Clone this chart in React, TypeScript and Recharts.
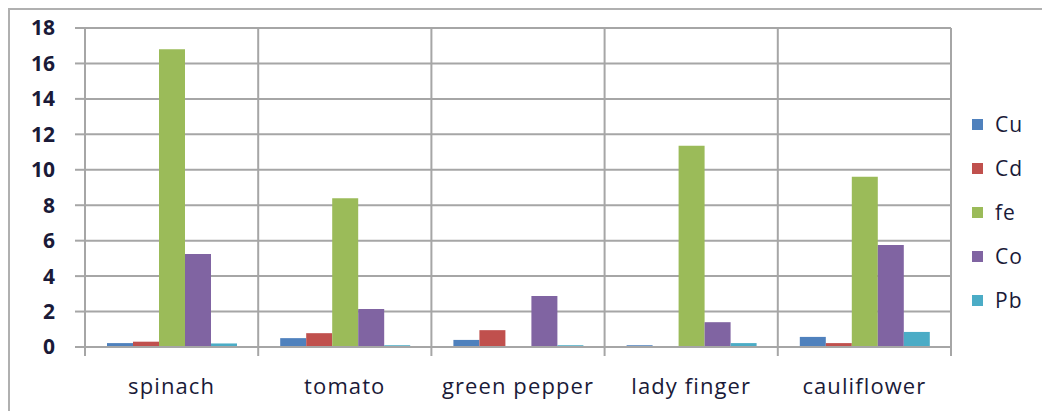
import { BarChart, Bar, XAxis, YAxis, CartesianGrid } from "recharts";

const categories = ["spinach", "tomato", "green pepper", "lady finger", "cauliflower"];
const cu = [0.22, 0.5, 0.4, 0.1, 0.57];
const cd = [0.3, 0.78, 0.95, 0, 0.22];
const fe = [16.8, 8.4, 0, 11.35, 9.6];
const co = [5.25, 2.15, 2.88, 1.4, 5.75];
const pb = [0.2, 0.1, 0.1, 0.22, 0.85];
const yTicks = [0, 2, 4, 6, 8, 10, 12, 14, 16, 18];

const series = [
  { key: "Cu", values: cu, color: "#4F81BD" },
  { key: "Cd", values: cd, color: "#C0504D" },
  { key: "fe", values: fe, color: "#9BBB59" },
  { key: "Co", values: co, color: "#8064A2" },
  { key: "Pb", values: pb, color: "#4BACC6" },
];

const data = categories.map((name, i) => {
  const row: Record<string, string | number> = { name };
  series.forEach((s) => (row[s.key] = s.values[i]));
  return row;
});

const W = 1042;
const H = 411;
const LEFT = 85;
const RIGHT = 951;
const TOP = 28;
const BASE = 347;
const GRID = "#A6A6A6";
const TEXT = "#1A1A38";
const FONT = "'Open Sans', sans-serif";
const band = (RIGHT - LEFT) / categories.length;

function CategoryTick(props: any) {
  const { x, payload, index } = props;
  const left = x - band / 2;
  return (
    <g>
      <line x1={left} x2={left} y1={BASE} y2={BASE + 9} stroke={GRID} strokeWidth={2} />
      {index === categories.length - 1 && (
        <line x1={left + band} x2={left + band} y1={BASE} y2={BASE + 9} stroke={GRID} strokeWidth={2} />
      )}
      <text
        x={x}
        y={BASE + 47}
        textAnchor="middle"
        fill={TEXT}
        fontSize={22}
        letterSpacing={1.1}
        fontWeight={500}
        fontFamily={FONT}
      >
        {payload.value}
      </text>
    </g>
  );
}

export default function App() {
  return (
    <div style={{ position: "absolute", left: 0, top: 0, width: W, height: H, overflow: "hidden", background: "#fff" }}>
      <div
        style={{
          position: "absolute",
          left: 8,
          top: 8,
          width: W + 20,
          height: H + 20,
          border: "2px solid #B0B0B0",
        }}
      />
      <div style={{ position: "absolute", left: 0, top: 0 }}>
        <BarChart
          width={W}
          height={H}
          data={data}
          margin={{ top: TOP, right: W - RIGHT, bottom: H - BASE - 30, left: LEFT - 60 }}
          barGap={0}
          barSize={26}
        >
          <CartesianGrid
            stroke={GRID}
            strokeWidth={2}
            verticalCoordinatesGenerator={() =>
              categories.map((_, i) => LEFT + i * band).concat(RIGHT)
            }
          />
          <XAxis
            dataKey="name"
            height={30}
            axisLine={{ stroke: GRID, strokeWidth: 2 }}
            tickLine={false}
            tick={<CategoryTick />}
            interval={0}
          />
          <YAxis
            width={60}
            domain={[0, 18]}
            ticks={yTicks}
            interval={0}
            axisLine={{ stroke: GRID, strokeWidth: 2 }}
            tickLine={{ stroke: GRID, strokeWidth: 2 }}
            tickSize={10}
            tickMargin={20}
            tick={{ fill: TEXT, fontSize: 21, fontWeight: 700, fontFamily: FONT }}
          />
          {series.map((s) => (
            <Bar key={s.key} dataKey={s.key} fill={s.color} isAnimationActive={false} />
          ))}
        </BarChart>
      </div>
      <div
        style={{
          position: "absolute",
          left: 972,
          top: 102,
          fontFamily: FONT,
          fontSize: 21,
          fontWeight: 500,
          letterSpacing: 1,
          color: TEXT,
        }}
      >
        {series.map((s) => (
          <div key={s.key} style={{ display: "flex", alignItems: "center", height: 44 }}>
            <span style={{ width: 11, height: 11, background: s.color, marginRight: 12 }} />
            {s.key}
          </div>
        ))}
      </div>
    </div>
  );
}
